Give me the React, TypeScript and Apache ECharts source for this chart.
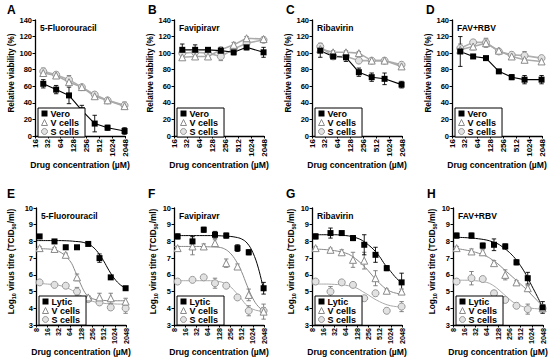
import React, { useEffect, useRef } from "react";
import * as echarts from "echarts";

const FONT = "'Liberation Sans', Arial, Helvetica, sans-serif";

// Drug concentrations (µM)
const topConc = [25, 50, 100, 200, 400, 800, 2000];
const bottomConc = [10, 25, 50, 100, 200, 400, 800, 2000];
const curveConc = [8, 16, 32, 64, 90, 128, 181, 256, 362, 512, 724, 1024, 1448, 2048];

// ---------- Relative viability (%) ----------
const aVero = [63, 56, 49, 31, 15, 10, 6];
const aVeroErr = [5, 5, 10, 6, 10, 3, 4];
const aVcells = [76, 73, 65, 59, 48, 43, 36];
const aVcellsErr = [3, 3, 4, 2, 3, 2, 4];
const aScells = [78, 74, 68, 59, 50, 43, 37];
const aScellsErr = [4, 3, 5, 2, 3, 2, 4];

const bVero = [104, 104, 104, 103, 101, 107, 101];
const bVeroErr = [7, 6, 2, 4, 3, 3, 6];
const bVcells = [95, 96, 96, 104, 110, 118, 117];
const bVcellsErr = [2, 2, 2, 3, 3, 2, 2];
const bScells = [100, 101, 100, 96, 105, 112, 116];
const bScellsErr = [4, 3, 3, 5, 3, 3, 3];

const cVero = [103, 96, 95, 77, 71, 69, 62];
const cVeroErr = [8, 3, 5, 5, 5, 7, 4];
const cVcells = [105, 101, 101, 100, 91, 91, 84];
const cVcellsErr = [3, 2, 2, 2, 2, 2, 3];
const cScells = [108, 96, 96, 91, 91, 91, 86];
const cScellsErr = [4, 3, 3, 2, 2, 3, 2];

const dVero = [102, 96, 94, 78, 71, 68, 68];
const dVeroErr = [18, 2, 2, 2, 3, 5, 5];
const dVcells = [104, 108, 112, 103, 96, 92, 90];
const dVcellsErr = [4, 4, 5, 2, 3, 3, 3];
const dScells = [106, 113, 113, 102, 98, 97, 94];
const dScellsErr = [5, 3, 5, 2, 3, 5, 3];

// ---------- Log10 virus titre ----------
const eLytic = [8.3, 8.0, 7.65, 7.65, 7.85, 7.0, 5.85, 5.2];
const eLyticErr = [0.1, 0.08, 0.12, 0.1, 0.1, 0.25, 0.1, 0.1];
const eVcells = [7.6, 7.55, 7.2, 5.85, 4.65, 4.65, 4.6, 4.4];
const eVcellsErr = [0.08, 0.08, 0.1, 0.2, 0.1, 0.25, 0.3, 0.2];
const eScells = [5.55, 5.4, 5.35, 5.0, 4.55, 4.35, 4.05, 4.0];
const eScellsErr = [0.05, 0.1, 0.1, 0.25, 0.08, 0.12, 0.15, 0.3];
const eLyticFit = [8.05, 8.05, 8.05, 8.03, 8.0, 7.97, 7.88, 7.7, 7.35, 6.85, 6.25, 5.75, 5.4, 5.18];
const eVcellsFit = [7.57, 7.55, 7.42, 6.85, 6.2, 5.4, 4.8, 4.58, 4.5, 4.47, 4.46, 4.45, 4.45, 4.45];
const eScellsFit = [5.5, 5.45, 5.38, 5.15, 4.95, 4.75, 4.55, 4.42, 4.35, 4.3, 4.27, 4.26, 4.25, 4.25];

const fLytic = [8.3, 8.0, 8.7, 8.4, 8.35, 7.6, 7.35, 5.2];
const fLyticErr = [0.15, 0.3, 0.15, 0.2, 0.15, 0.2, 0.15, 0.35];
const fVcells = [7.6, 7.7, 7.7, 7.9, 6.7, 6.5, 4.8, 3.8];
const fVcellsErr = [0.1, 0.5, 0.15, 0.2, 0.25, 0.15, 0.35, 0.45];
const fScells = [5.6, 5.7, 5.85, 5.5, 5.35, 4.65, 3.85, 3.85];
const fScellsErr = [0.08, 0.1, 0.1, 0.3, 0.1, 0.1, 0.3, 0.2];
const fLyticFit = [8.35, 8.35, 8.35, 8.35, 8.35, 8.34, 8.32, 8.3, 8.25, 8.15, 7.9, 7.35, 6.4, 5.0];
const fVcellsFit = [7.7, 7.7, 7.7, 7.68, 7.67, 7.65, 7.55, 7.3, 6.85, 6.2, 5.35, 4.6, 4.1, 3.85];
const fScellsFit = [5.65, 5.65, 5.65, 5.65, 5.64, 5.6, 5.5, 5.3, 4.95, 4.55, 4.15, 3.95, 3.85, 3.82];

const gLytic = [8.3, 8.5, 8.5, 8.2, 7.8, 7.2, 6.4, 5.55];
const gLyticErr = [0.15, 0.3, 0.1, 0.15, 0.6, 0.45, 0.15, 0.55];
const gVcells = [7.6, 7.5, 7.35, 6.9, 6.85, 5.8, 5.05, 5.0];
const gVcellsErr = [0.08, 0.1, 0.15, 0.45, 0.5, 0.45, 0.1, 0.15];
const gScells = [5.6, 5.0, 5.55, 5.4, 4.6, 4.9, 3.85, 4.1];
const gScellsErr = [0.05, 0.3, 0.08, 0.15, 0.1, 0.15, 0.15, 0.3];
const gLyticFit = [8.4, 8.4, 8.4, 8.35, 8.3, 8.2, 8.05, 7.8, 7.5, 7.1, 6.6, 6.2, 5.8, 5.5];
const gVcellsFit = [7.55, 7.52, 7.45, 7.3, 7.15, 6.9, 6.6, 6.25, 5.85, 5.5, 5.2, 5.0, 4.9, 4.85];
const gScellsFit = [5.45, 5.45, 5.43, 5.38, 5.3, 5.2, 5.0, 4.8, 4.58, 4.4, 4.25, 4.15, 4.1, 4.05];

const hLytic = [8.35, 8.35, 7.75, 7.8, 7.7, 6.75, 5.8, 4.05];
const hLyticErr = [0.15, 0.15, 0.15, 0.35, 0.15, 0.15, 0.35, 0.35];
const hVcells = [7.6, 7.4, 7.35, 6.7, 6.0, 5.55, 5.2, 4.0];
const hVcellsErr = [0.1, 0.15, 0.15, 0.15, 0.3, 0.1, 0.15, 0.2];
const hScells = [5.6, 5.8, 5.75, 4.9, 4.5, 4.15, 3.95, 4.0];
const hScellsErr = [0.1, 0.4, 0.15, 0.15, 0.1, 0.15, 0.3, 0.2];
const hLyticFit = [8.25, 8.23, 8.18, 8.08, 7.98, 7.85, 7.62, 7.35, 7.0, 6.55, 6.0, 5.35, 4.7, 4.0];
const hVcellsFit = [7.6, 7.5, 7.35, 7.1, 6.9, 6.65, 6.35, 6.05, 5.75, 5.45, 5.15, 4.8, 4.45, 4.1];
const hScellsFit = [5.68, 5.68, 5.65, 5.55, 5.4, 5.15, 4.85, 4.55, 4.3, 4.15, 4.05, 4.0, 3.97, 3.95];

type Kind = "black" | "tri" | "circ";
interface Group { name: string; vals: number[]; errs: number[]; kind: Kind; fit?: number[] }
interface Panel { letter: string; title: string; row: number; col: number; groups: Group[] }

const panels: Panel[] = [
  { letter: "A", title: "5-Fluorouracil", row: 0, col: 0, groups: [
    { name: "Vero", vals: aVero, errs: aVeroErr, kind: "black" },
    { name: "V cells", vals: aVcells, errs: aVcellsErr, kind: "tri" },
    { name: "S cells", vals: aScells, errs: aScellsErr, kind: "circ" } ] },
  { letter: "B", title: "Favipiravr", row: 0, col: 1, groups: [
    { name: "Vero", vals: bVero, errs: bVeroErr, kind: "black" },
    { name: "V cells", vals: bVcells, errs: bVcellsErr, kind: "tri" },
    { name: "S cells", vals: bScells, errs: bScellsErr, kind: "circ" } ] },
  { letter: "C", title: "Ribavirin", row: 0, col: 2, groups: [
    { name: "Vero", vals: cVero, errs: cVeroErr, kind: "black" },
    { name: "V cells", vals: cVcells, errs: cVcellsErr, kind: "tri" },
    { name: "S cells", vals: cScells, errs: cScellsErr, kind: "circ" } ] },
  { letter: "D", title: "FAV+RBV", row: 0, col: 3, groups: [
    { name: "Vero", vals: dVero, errs: dVeroErr, kind: "black" },
    { name: "V cells", vals: dVcells, errs: dVcellsErr, kind: "tri" },
    { name: "S cells", vals: dScells, errs: dScellsErr, kind: "circ" } ] },
  { letter: "E", title: "5-Fluorouracil", row: 1, col: 0, groups: [
    { name: "Lytic", vals: eLytic, errs: eLyticErr, kind: "black", fit: eLyticFit },
    { name: "V cells", vals: eVcells, errs: eVcellsErr, kind: "tri", fit: eVcellsFit },
    { name: "S cells", vals: eScells, errs: eScellsErr, kind: "circ", fit: eScellsFit } ] },
  { letter: "F", title: "Favipiravr", row: 1, col: 1, groups: [
    { name: "Lytic", vals: fLytic, errs: fLyticErr, kind: "black", fit: fLyticFit },
    { name: "V cells", vals: fVcells, errs: fVcellsErr, kind: "tri", fit: fVcellsFit },
    { name: "S cells", vals: fScells, errs: fScellsErr, kind: "circ", fit: fScellsFit } ] },
  { letter: "G", title: "Ribavirin", row: 1, col: 2, groups: [
    { name: "Lytic", vals: gLytic, errs: gLyticErr, kind: "black", fit: gLyticFit },
    { name: "V cells", vals: gVcells, errs: gVcellsErr, kind: "tri", fit: gVcellsFit },
    { name: "S cells", vals: gScells, errs: gScellsErr, kind: "circ", fit: gScellsFit } ] },
  { letter: "H", title: "FAV+RBV", row: 1, col: 3, groups: [
    { name: "Lytic", vals: hLytic, errs: hLyticErr, kind: "black", fit: hLyticFit },
    { name: "V cells", vals: hVcells, errs: hVcellsErr, kind: "tri", fit: hVcellsFit },
    { name: "S cells", vals: hScells, errs: hScellsErr, kind: "circ", fit: hScellsFit } ] },
];

// layout (pixels)
const TOP_LEFTS = [35, 174, 312, 452];
const BOT_LEFTS = [36, 174, 312, 453];
const TOP_YNAME_GAP = [20, 12, 12, 12];
const BOT_YNAME_GAP = [19, 13, 13, 13];
const PLOT_W = 90;

const markerStyle = (k: Kind) => {
  if (k === "black") return { symbol: "rect", size: 6, item: { color: "#000", borderColor: "#000", borderWidth: 0 }, line: "#000", err: "#000" };
  if (k === "tri") return { symbol: "triangle", size: 7, item: { color: "#fff", borderColor: "#8a8a8a", borderWidth: 1 }, line: "#aaaaaa", err: "#777" };
  return { symbol: "circle", size: 7, item: { color: "#e2e2e2", borderColor: "#999", borderWidth: 1 }, line: "#b0b0b0", err: "#777" };
};

function buildOption() {
  const grid: any[] = [];
  const xAxis: any[] = [];
  const yAxis: any[] = [];
  const series: any[] = [];
  const legend: any[] = [];
  const graphic: any[] = [];

  panels.forEach((p, i) => {
    const isTop = p.row === 0;
    const left = isTop ? TOP_LEFTS[p.col] : BOT_LEFTS[p.col];
    const top = isTop ? 20 : 208;
    const height = isTop ? 116 : 117;
    const conc = isTop ? topConc : bottomConc;
    grid.push({ left, top, width: PLOT_W, height });

    xAxis.push({
      gridIndex: i, type: "log", logBase: 2, min: isTop ? 16 : 8, max: 2048, splitNumber: 8,
      name: "Drug concentration (µM)", nameLocation: "middle", nameGap: isTop ? 24 : 19,
      nameTextStyle: { fontFamily: FONT, fontSize: 8.6, fontWeight: "bold", color: "#000" },
      axisLine: { show: true, lineStyle: { color: "#000", width: 1.3 } },
      axisTick: { show: true, length: 2.5, lineStyle: { color: "#000", width: 1 } },
      minorTick: { show: false }, splitLine: { show: false },
      axisLabel: { rotate: 90, margin: 3, fontFamily: FONT, fontSize: isTop ? 8 : 7.2, fontWeight: "bold", color: "#000",
        formatter: (v: number) => String(Math.round(v)) },
    });

    const yNameTop = "Relative viability (%)";
    const yNameBot = "{a|Log}{s|10}{a| virus titre (TCID}{s|50}{a|/ml)}";
    yAxis.push({
      gridIndex: i, type: "value", min: isTop ? 0 : 3, max: isTop ? 140 : 10, interval: isTop ? 20 : 1,
      name: isTop ? yNameTop : yNameBot, nameLocation: "middle",
      nameGap: isTop ? TOP_YNAME_GAP[p.col] : BOT_YNAME_GAP[p.col],
      nameTextStyle: {
        fontFamily: FONT, fontSize: 8.2, fontWeight: "bold", color: "#000", padding: [0, 0, 0, 10],
        rich: {
          a: { fontFamily: FONT, fontSize: 8.2, fontWeight: "bold", color: "#000", lineHeight: 11 },
          s: { fontFamily: FONT, fontSize: 5.5, fontWeight: "bold", color: "#000", lineHeight: 5, verticalAlign: "bottom" },
        },
      },
      axisLine: { show: true, lineStyle: { color: "#000", width: 1.3 } },
      axisTick: { show: true, length: 2.5, lineStyle: { color: "#000", width: 1 } },
      splitLine: { show: false },
      axisLabel: { margin: 3, fontFamily: FONT, fontSize: 7.5, fontWeight: "bold", color: "#000" },
    });

    // draw order: S, V, then black on top
    const ordered = [...p.groups].reverse();
    ordered.forEach((g) => {
      const ms = markerStyle(g.kind);
      if (g.fit) {
        series.push({
          type: "line", name: g.name + " fit", xAxisIndex: i, yAxisIndex: i, symbol: "none", smooth: 0.4,
          lineStyle: { color: g.kind === "black" ? "#000" : g.kind === "tri" ? "#888" : "#aaa", width: 1 },
          data: curveConc.map((c, k) => [c, g.fit![k]]), z: 1, silent: true,
        });
      }
      series.push({
        type: "custom", name: g.name + " err", xAxisIndex: i, yAxisIndex: i, z: 2, silent: true,
        data: conc.map((c, k) => [c, g.vals[k] - g.errs[k], g.vals[k] + g.errs[k]]),
        encode: { x: 0, y: [1, 2] },
        renderItem: (_params: any, api: any) => {
          const x = api.value(0);
          const lo = api.coord([x, api.value(1)]);
          const hi = api.coord([x, api.value(2)]);
          const w = 2.2;
          const style = { stroke: ms.err, lineWidth: 0.9 };
          return {
            type: "group",
            children: [
              { type: "line", shape: { x1: lo[0], y1: lo[1], x2: hi[0], y2: hi[1] }, style },
              { type: "line", shape: { x1: lo[0] - w, y1: lo[1], x2: lo[0] + w, y2: lo[1] }, style },
              { type: "line", shape: { x1: hi[0] - w, y1: hi[1], x2: hi[0] + w, y2: hi[1] }, style },
            ],
          };
        },
      });
      series.push({
        type: "line", name: g.name, xAxisIndex: i, yAxisIndex: i,
        symbol: ms.symbol, symbolSize: ms.size, itemStyle: ms.item,
        lineStyle: isTop ? { color: ms.line, width: g.kind === "black" ? 1.1 : 1.6 } : { width: 0, opacity: 0 },
        data: conc.map((c, k) => [c, g.vals[k]]), z: 3,
      });
    });

    legend.push({
      left: left + 3, top: isTop ? 108 : 296, orient: "vertical", selectedMode: false,
      borderColor: "#000", borderWidth: 1, borderRadius: 0, backgroundColor: "#fff",
      padding: [1, 6, 1, 3], itemGap: 0, itemWidth: 6, itemHeight: 6,
      textStyle: { fontFamily: FONT, fontSize: 9, fontWeight: "bold", color: "#000", lineHeight: 8.4, padding: [0, 0, 0, -2] },
      data: p.groups.map((g) => {
        const ms = markerStyle(g.kind);
        return { name: g.name, icon: ms.symbol, itemStyle: ms.item };
      }),
    });

    graphic.push({
      type: "text", left: left - (isTop ? (p.col === 0 ? 28 : 26) : (p.col === 0 ? 29 : 26)), top: isTop ? 4 : 188,
      style: { text: p.letter, fontFamily: FONT, fontSize: 12, fontWeight: "bold", fill: "#000" },
    });
    graphic.push({
      type: "text", left: left + 5, top: top + 3,
      style: { text: p.title, fontFamily: FONT, fontSize: 8.5, fontWeight: "bold", fill: "#000" },
    });
  });

  return { animation: false, backgroundColor: "#fff", grid, xAxis, yAxis, series, legend, graphic };
}

export default function App() {
  const ref = useRef<HTMLDivElement>(null);
  useEffect(() => {
    if (!ref.current) return;
    const chart = echarts.init(ref.current, undefined, { renderer: "svg" });
    chart.setOption(buildOption());
    return () => chart.dispose();
  }, []);
  return <div ref={ref} style={{ width: 550, height: 362, position: "absolute", left: 0, top: 0 }} />;
}
